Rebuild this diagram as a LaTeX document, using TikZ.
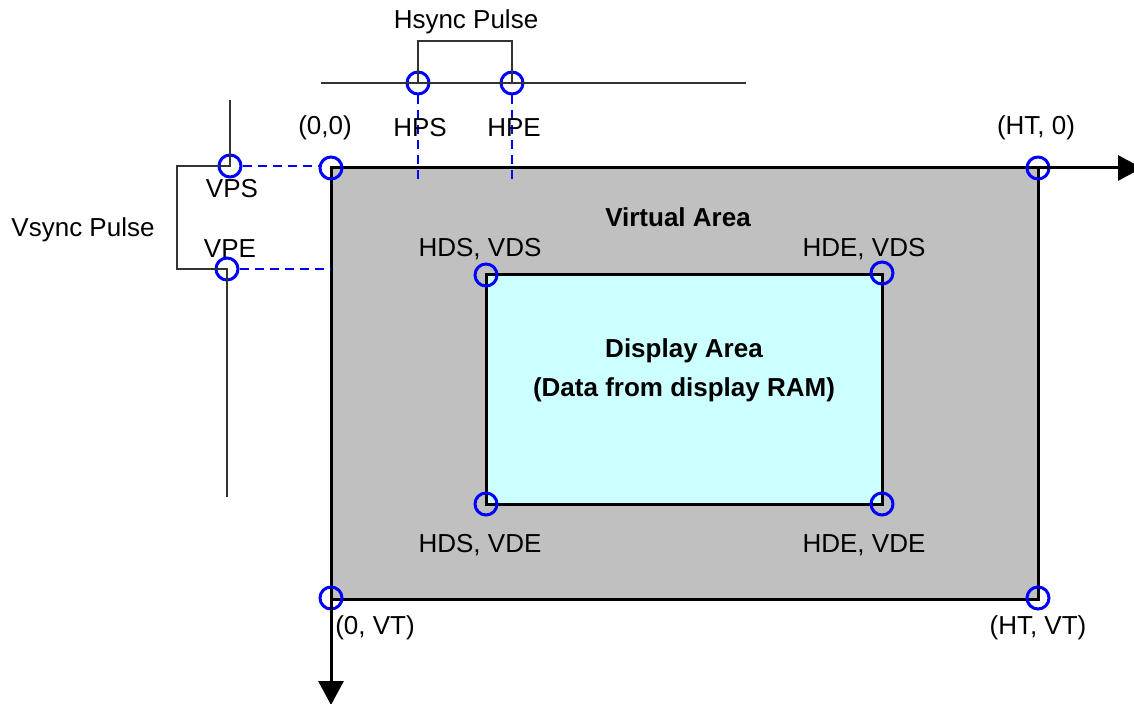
\documentclass[tikz,border=0pt]{standalone}
\usepackage{fontspec}
\setmainfont{Liberation Sans}
\usetikzlibrary{arrows.meta}
\definecolor{virtgray}{RGB}{192,192,192}
\definecolor{dispcyan}{RGB}{204,255,255}
\begin{document}
\begin{tikzpicture}[x=0.5pt,y=-0.5pt, every node/.style={font=\fontsize{13}{15}\selectfont},
  pt/.style={draw=blue,line width=1.5pt,circle,minimum size=11pt,inner sep=0pt},
  area/.style={draw=black,line width=1.5pt},
  sig/.style={draw=black!80,line width=0.75pt},
  guide/.style={draw=blue,line width=1pt,dash pattern=on 4.5pt off 3pt},
  axis/.style={line width=1.5pt,-{Triangle[length=12pt,width=12.5pt]}}]
\useasboundingbox (0,0) rectangle (1134,704);
% areas
\filldraw[area,fill=virtgray] (331,168) rectangle (1038,600);
\filldraw[area,fill=dispcyan] (486,275) rectangle (882,505);
\node[font=\fontsize{13}{15}\selectfont\bfseries] (virt) at (678,217) {Virtual Area};
\node[font=\fontsize{13}{15}\selectfont\bfseries,align=center] (disp) at (684,370) {Display Area\\[4.5pt](Data from display RAM)};
% corner points
\node[pt] (o) at (331,168) {}; \node[pt] (ht) at (1038,168) {};
\node[pt] (vt) at (331,598) {}; \node[pt] (htvt) at (1038,598) {};
\node[pt] (dss) at (486,275) {}; \node[pt] (des) at (882,273) {};
\node[pt] (dse) at (486,504) {}; \node[pt] (dee) at (882,504) {};
\coordinate (xend) at (1142,168); \coordinate (yend) at (331,705);
\draw[axis] (ht.center) -- (xend);
\draw[axis] (vt.center) -- (yend);
% hsync
\node[pt] (hps) at (418,83) {}; \node[pt] (hpe) at (512,83) {};
\coordinate (hl) at (321,83); \coordinate (hr) at (746,83);
\coordinate (hpsend) at (418,181); \coordinate (hpeend) at (512,181);
\draw[sig] (hl) -- (hr);
\draw[sig] (hps.center) -- ++(0,-42) -| (hpe.center);
\draw[guide] (hps) -- (hpsend); \draw[guide] (hpe) -- (hpeend);
% vsync
\node[pt] (vps) at (230,166) {}; \node[pt] (vpe) at (227,269) {};
\coordinate (vtop) at (230,100); \coordinate (vbot) at (227,497);
\coordinate (vpsend) at (320,166); \coordinate (vpeend) at (331,269);
\draw[sig] (vtop) -- (vps.center) -- ++(-53,0) |- (vpe.center) -- (vbot);
\draw[guide] (vps) -- (vpsend); \draw[guide] (vpe) -- (vpeend);
% labels
\node (hsync) at (466,22) {Hsync Pulse};
\node (vsync) at (83,230) {Vsync Pulse};
\node (hpsl) at (420,128) {HPS}; \node (hpel) at (514,128) {HPE};
\node (vpsl) at (232,189) {VPS}; \node (vpel) at (230,249) {VPE};
\node (ol) at (325,128) {(0,0)}; \node (htl) at (1036,128) {(HT, 0)};
\node (vtl) at (375,628) {(0, VT)}; \node (htvtl) at (1038,628) {(HT, VT)};
\node (dssl) at (480,249) {HDS, VDS}; \node (desl) at (864,249) {HDE, VDS};
\node (dsel) at (480,545) {HDS, VDE}; \node (deel) at (864,545) {HDE, VDE};
\end{tikzpicture}
\end{document}
